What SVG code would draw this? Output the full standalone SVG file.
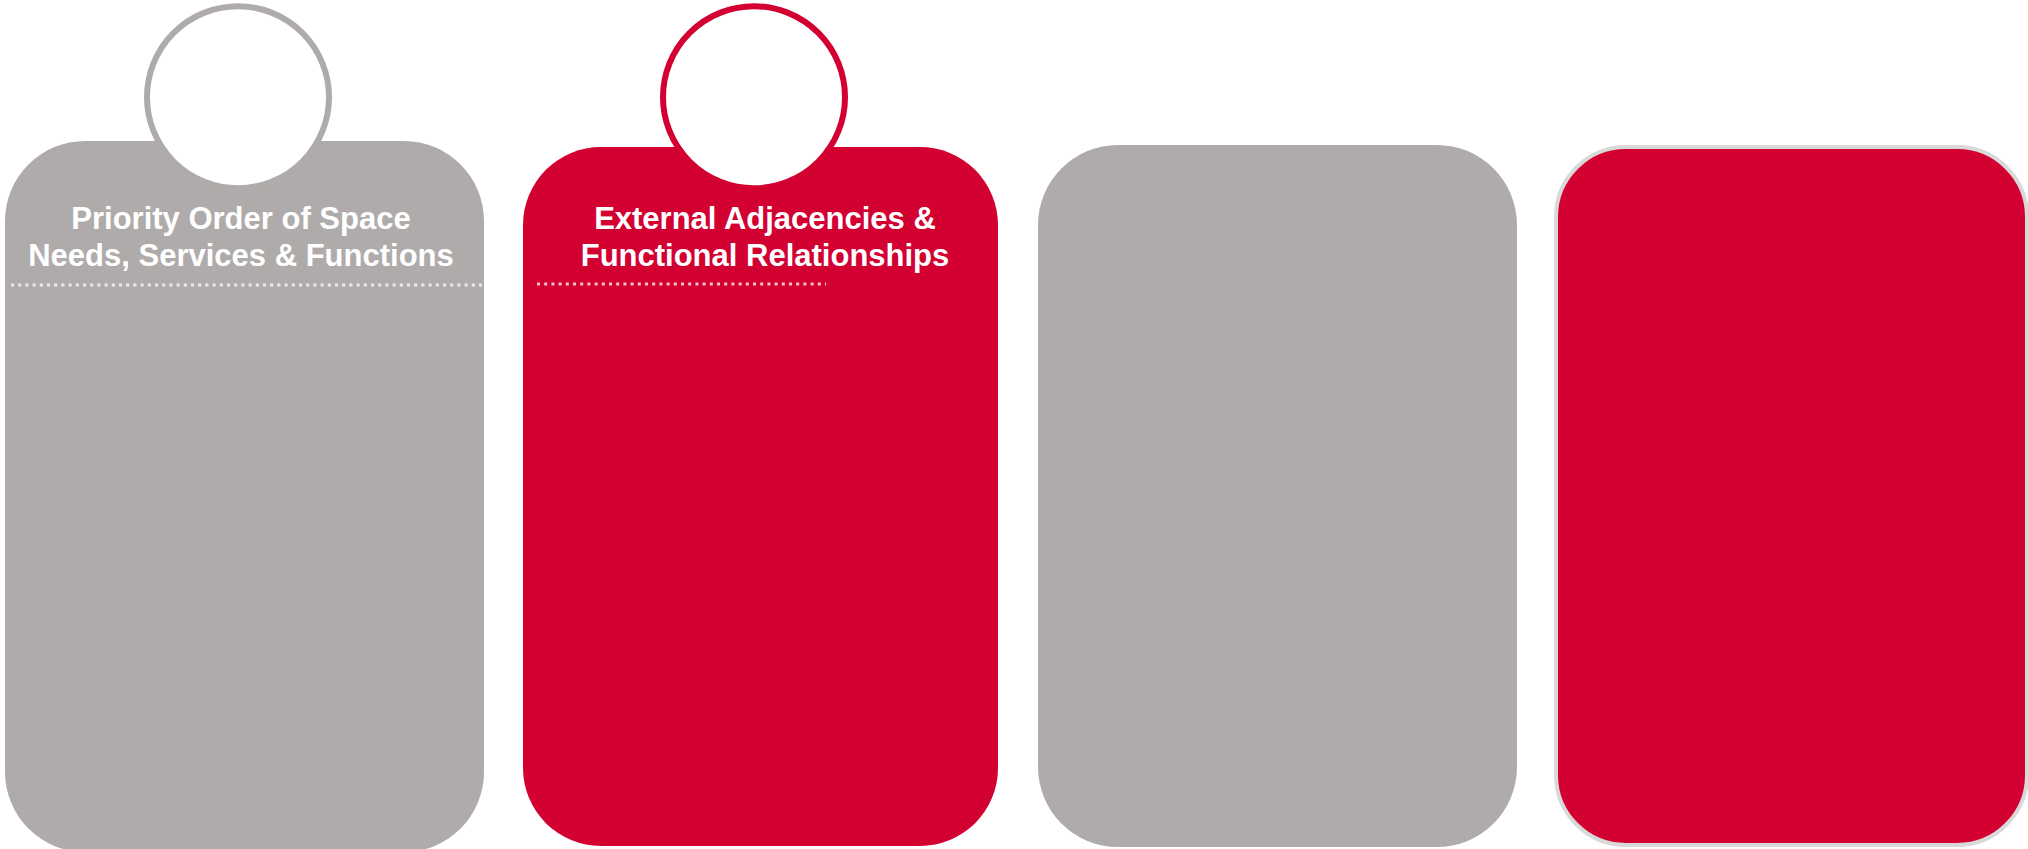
<svg xmlns="http://www.w3.org/2000/svg" width="2028" height="849" viewBox="0 0 2028 849">
  <style>
    .gray { fill: #AFABAA; }
    .red { fill: #D30032; }
    .title { font-family: "Liberation Sans", Arial, sans-serif; font-weight: bold; font-size: 31px; fill: #FFFFFF; text-anchor: middle; }
    .dots { stroke: #FFFFFF; stroke-opacity: 0.75; stroke-width: 3; stroke-dasharray: 3 4.2; fill: none; }
    .ring { fill: #FFFFFF; stroke-width: 6; }
  </style>
  <rect width="2028" height="849" fill="#FFFFFF"/>
  <g id="node-priority">
    <rect class="gray" x="5" y="141" width="479" height="711" rx="80" ry="80"/>
    <circle class="ring" cx="238" cy="97.2" r="91" stroke="#AFABAA"/>
    <text class="title" x="241" y="229">Priority Order of Space</text>
    <text class="title" x="241" y="266">Needs, Services &amp; Functions</text>
    <line class="dots" x1="11" y1="285" x2="486" y2="285"/>
  </g>
  <g id="node-external">
    <rect class="red" x="523" y="147" width="475" height="699" rx="78" ry="78"/>
    <circle class="ring" cx="754" cy="97.2" r="91" stroke="#D30032"/>
    <text class="title" x="765" y="229">External Adjacencies &amp;</text>
    <text class="title" x="765" y="266">Functional Relationships</text>
    <line class="dots" x1="537" y1="284" x2="826" y2="284"/>
  </g>
  <g id="node-third">
    <rect class="gray" x="1038" y="145" width="479" height="702" rx="80" ry="80"/>
  </g>
  <g id="node-fourth">
    <rect class="red" x="1556" y="147" width="471" height="698" rx="70" ry="70" stroke="#D9D9D9" stroke-width="4"/>
  </g>
  <g id="connectors"></g>
</svg>
